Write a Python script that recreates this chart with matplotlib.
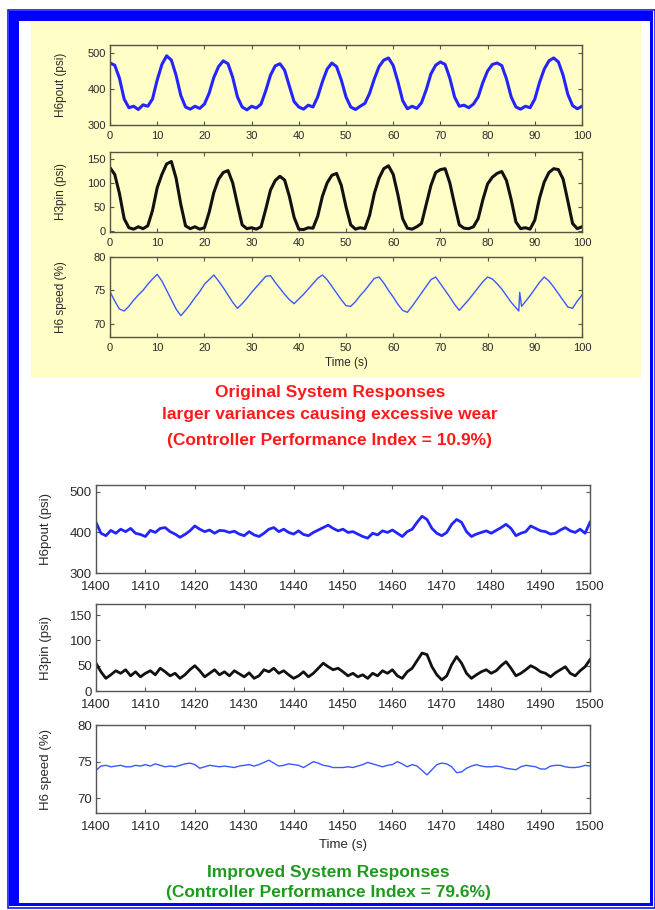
import numpy as np
import matplotlib
matplotlib.use('Agg')
import matplotlib.pyplot as plt
from matplotlib.patches import Rectangle

plt.rcParams['font.family'] = ['Liberation Sans Narrow', 'Liberation Sans', 'DejaVu Sans']

# ---- original system (0..100 s, 1 s samples) ----
TIME_TOP = list(range(0, 101))

H6POUT_TOP = [
    472, 466, 430, 372, 348, 352, 343, 356, 352, 372,
    425, 468, 492, 480, 438, 382, 350, 344, 352, 346,
    358, 388, 432, 462, 478, 470, 432, 378, 350, 342,
    352, 347, 358, 395, 438, 464, 470, 452, 408, 365,
    350, 344, 355, 350, 378, 420, 455, 472, 462, 425,
    378, 350, 343, 352, 360, 388, 428, 462, 480, 486,
    465, 420, 368, 345, 352, 346, 362, 398, 442, 466,
    475, 468, 430, 378, 352, 355, 348, 358, 378, 418,
    450, 468, 472, 465, 428, 378, 350, 344, 352, 348,
    372, 418, 455, 478, 486, 475, 438, 385, 354, 345,
    352,
]

H3PIN_TOP = [
    132, 118, 78, 25, 6, 3, 8, 4, 10, 42,
    90, 118, 140, 145, 110, 55, 10, 4, 8, 3,
    6, 38, 80, 108, 122, 126, 100, 55, 12, 4,
    6, 3, 8, 45, 85, 105, 114, 106, 72, 28,
    3, 2, 6, 5, 30, 72, 100, 116, 120, 95,
    50, 12, 3, 6, 4, 32, 78, 110, 130, 136,
    118, 75, 25, 5, 3, 8, 15, 55, 95, 122,
    128, 130, 100, 55, 12, 5, 4, 8, 25, 65,
    98, 112, 120, 124, 105, 65, 18, 4, 6, 3,
    22, 68, 102, 122, 130, 128, 108, 62, 15, 4,
    8,
]

SPEED_TOP_T = list(range(0, 87)) + [86.6, 86.8, 87.2] + list(range(88, 101))
SPEED_TOP = [
    74.8, 73.4, 72.2, 71.9, 72.6, 73.5, 74.3, 75.0, 75.9, 76.7,
    77.4, 76.4, 75.0, 73.6, 72.2, 71.2, 72.0, 72.9, 73.9, 74.8,
    75.9, 76.6, 77.3, 76.4, 75.4, 74.3, 73.2, 72.3, 73.0, 73.8,
    74.7, 75.5, 76.3, 77.1, 77.2, 76.2, 75.3, 74.4, 73.6, 73.0,
    73.7, 74.4, 75.2, 76.0, 76.8, 77.3, 76.6, 75.6, 74.6, 73.6,
    72.7, 72.6, 73.3, 74.2, 75.0, 75.9, 76.8, 77.0, 76.1, 75.0,
    74.0, 72.9, 72.0, 71.7, 72.6, 73.6, 74.6, 75.6, 76.6, 77.0,
    76.0, 75.0, 74.0, 72.9, 72.0, 72.8, 73.6, 74.5, 75.4, 76.3,
    77.0, 76.7, 76.0, 75.2, 74.2, 73.2, 72.4,
    71.9, 74.7, 72.6,
    73.3, 74.2, 75.2, 76.2, 77.0, 76.4, 75.5, 74.5, 73.5, 72.5,
    72.3, 73.4, 74.3,
]

# ---- improved system (1400..1500 s, 1 s samples) ----
TIME_BOT = list(range(1400, 1501))

H6POUT_BOT = [
    425, 398, 392, 405, 398, 408, 402, 410, 398, 395,
    390, 405, 400, 410, 412, 402, 396, 388, 395, 404,
    416, 408, 402, 406, 398, 405, 404, 400, 403, 396,
    392, 402, 394, 390, 398, 408, 412, 402, 408, 400,
    396, 404, 395, 392, 400, 406, 412, 418, 410, 404,
    408, 400, 402, 396, 390, 386, 398, 394, 404, 400,
    406, 398, 390, 402, 408, 425, 440, 432, 410, 398,
    392, 400, 420, 432, 425, 402, 390, 396, 400, 404,
    398, 405, 412, 420, 410, 392, 398, 402, 416, 410,
    404, 402, 396, 398, 406, 412, 404, 400, 408, 398,
    425,
]

H3PIN_BOT = [
    55, 38, 25, 32, 40, 35, 42, 30, 38, 28,
    35, 40, 32, 45, 38, 30, 35, 25, 32, 42,
    50, 40, 28, 35, 42, 32, 38, 30, 40, 34,
    28, 36, 25, 30, 42, 38, 45, 35, 40, 32,
    25, 30, 38, 28, 35, 45, 55, 48, 42, 45,
    38, 30, 35, 28, 32, 25, 35, 30, 40, 35,
    42, 30, 25, 38, 45, 60, 75, 72, 48, 32,
    22, 30, 52, 68, 55, 35, 25, 32, 38, 42,
    35, 40, 50, 58, 45, 30, 35, 42, 50, 45,
    38, 35, 28, 36, 42, 48, 35, 30, 40, 48,
    62,
]

SPEED_BOT = [
    73.8, 74.4, 74.5, 74.3, 74.4, 74.5, 74.3, 74.3, 74.5, 74.4,
    74.6, 74.4, 74.7, 74.5, 74.3, 74.4, 74.3, 74.5, 74.7, 74.8,
    74.6, 74.1, 74.3, 74.5, 74.4, 74.3, 74.4, 74.3, 74.2, 74.4,
    74.5, 74.6, 74.4, 74.6, 74.9, 75.2, 74.8, 74.4, 74.5, 74.7,
    74.6, 74.5, 74.2, 74.6, 75.0, 74.8, 74.5, 74.4, 74.2, 74.2,
    74.2, 74.3, 74.2, 74.4, 74.6, 74.9, 74.7, 74.5, 74.3, 74.5,
    74.6, 75.0, 74.7, 74.3, 74.6, 74.4, 73.8, 73.2, 73.9, 74.6,
    74.8, 74.7, 74.3, 73.5, 73.6, 74.1, 74.4, 74.6, 74.4, 74.3,
    74.3, 74.4, 74.3, 74.1, 74.0, 73.9, 74.3, 74.5, 74.4, 74.3,
    74.0, 74.0, 74.4, 74.5, 74.5, 74.3, 74.2, 74.2, 74.3, 74.5,
    74.4,
]

YLABELS = ['H6pout (psi)', 'H3pin (psi)', 'H6 speed (%)']
YTICKS = [[300, 400, 500], [0, 50, 100, 150], [70, 75, 80]]
XTICKS_TOP = list(range(0, 101, 10))
XTICKS_BOT = list(range(1400, 1501, 10))

TOP_CAPTION = ['Original System Responses',
               'larger variances causing excessive wear',
               '(Controller Performance Index = 10.9%)']
BOT_CAPTION = ['Improved System Responses',
               '(Controller Performance Index = 79.6%)']

W, H = 655, 910
YELLOW = '#fefec6'
BLUE = '#2424ff'
SPEED_BLUE = '#3a58ff'
FRAME = '#0000ff'

fig = plt.figure(figsize=(W / 100, H / 100), dpi=100)
fig.patch.set_facecolor('white')

# pixel-space background layer for frame and yellow panel
bg = fig.add_axes([0, 0, 1, 1], zorder=0)
bg.set_xlim(0, W)
bg.set_ylim(H, 0)
bg.axis('off')
bg.add_patch(Rectangle((7.5, 9.5), 647, 898.5, fill=False, ec=FRAME, lw=1.1))
for (x, y, w, h) in [(9, 11, 644, 10), (9, 11, 10, 895), (650, 11, 3, 895), (9, 903, 644, 3)]:
    bg.add_patch(Rectangle((x, y), w, h, fc=FRAME, ec='none'))
bg.add_patch(Rectangle((31, 21), 610, 357, fc=YELLOW, ec='none'))


def px_axes(left, right, top, bottom):
    return fig.add_axes([left / W, 1 - bottom / H, (right - left) / W, (bottom - top) / H], zorder=2)


def style(ax, fs, spine_col):
    for s in ax.spines.values():
        s.set_color(spine_col)
        s.set_linewidth(1.0)
    ax.tick_params(direction='in', top=True, right=True, length=3, width=0.8,
                   color=spine_col, labelsize=fs, labelcolor='#2a2a2a')
    ax.tick_params(axis='x', pad=4)
    ax.tick_params(axis='y', pad=3)


# ---- top block ----
top_rows = [(45, 125), (152, 232), (257, 337)]
top_lims = [(300, 522), (-3, 165), (68, 80)]
top_series = [(TIME_TOP, H6POUT_TOP, BLUE, 2.2),
              (TIME_TOP, H3PIN_TOP, '#111111', 2.2),
              (SPEED_TOP_T, SPEED_TOP, SPEED_BLUE, 1.0)]
for i, ((t0, b0), lim, (tx, ty, col, lw)) in enumerate(zip(top_rows, top_lims, top_series)):
    ax = px_axes(110, 582, t0, b0)
    ax.set_facecolor(YELLOW)
    ax.plot(tx, ty, color=col, lw=lw, solid_joinstyle='round')
    ax.set_xlim(0, 100)
    ax.set_ylim(*lim)
    ax.set_xticks(XTICKS_TOP)
    ax.set_yticks(YTICKS[i])
    style(ax, 8, '#555544')
    ax.set_ylabel(YLABELS[i], fontsize=8.5, color='#2a2a2a')
    ax.yaxis.set_label_coords(-0.091, 0.5)
    if i == 2:
        ax.set_xlabel('Time (s)', fontsize=8.5, color='#2a2a2a', labelpad=3)

for k, line in enumerate(TOP_CAPTION):
    fig.text(330 / W, 1 - [392, 415, 440][k] / H, line, ha='center', va='center',
             color='#ff1a1a', fontsize=12.5, fontweight='bold', family=['Liberation Sans', 'DejaVu Sans'])

# ---- bottom block ----
bot_rows = [(485, 573), (604, 691), (725, 813)]
bot_lims = [(300, 517), (0, 172), (68, 80)]
bot_series = [(H6POUT_BOT, BLUE, 2.0), (H3PIN_BOT, '#111111', 2.0), (SPEED_BOT, SPEED_BLUE, 1.0)]
for i, ((t0, b0), lim, (ty, col, lw)) in enumerate(zip(bot_rows, bot_lims, bot_series)):
    ax = px_axes(96, 590, t0, b0)
    ax.set_facecolor('white')
    ax.plot(TIME_BOT, ty, color=col, lw=lw, solid_joinstyle='round')
    ax.set_xlim(1400, 1500)
    ax.set_ylim(*lim)
    ax.set_xticks(XTICKS_BOT)
    ax.set_yticks(YTICKS[i])
    style(ax, 9.5, '#555555')
    ax.tick_params(axis='x', pad=6)
    ax.set_ylabel(YLABELS[i], fontsize=9.5, color='#2a2a2a')
    ax.yaxis.set_label_coords(-0.089, 0.5)
    if i == 2:
        ax.set_xlabel('Time (s)', fontsize=9.5, color='#2a2a2a', labelpad=4)

for k, line in enumerate(BOT_CAPTION):
    fig.text(328 / W, 1 - [872, 893][k] / H, line, ha='center', va='center',
             color='#1e9a1e', fontsize=12.5, fontweight='bold', family=['Liberation Sans', 'DejaVu Sans'])

fig.savefig('out.png', dpi=100, facecolor='white')
